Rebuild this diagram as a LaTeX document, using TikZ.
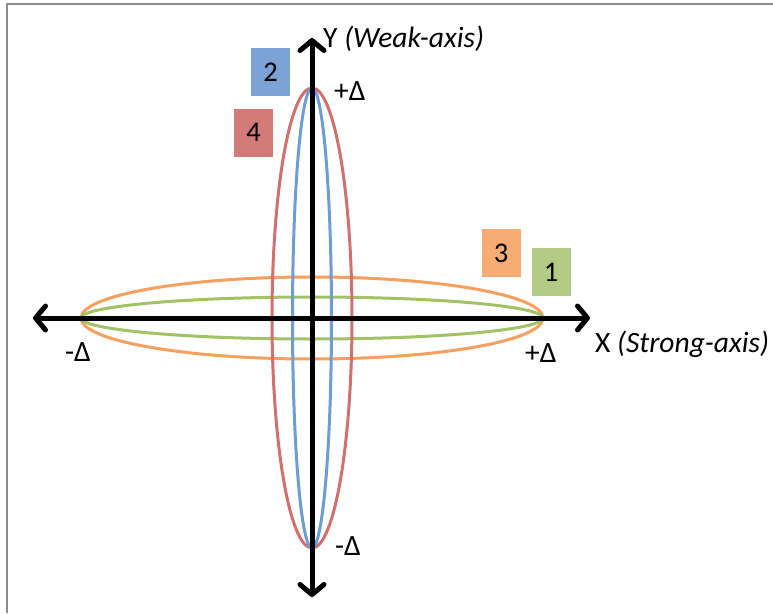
\documentclass[tikz,border=0pt]{standalone}
\usepackage{fontspec}
\setmainfont{Carlito}
\usepackage{tikz}
\usetikzlibrary{arrows.meta,positioning}
\definecolor{frameGray}{HTML}{8C8C8C}
\definecolor{modeGreen}{HTML}{A3C266}
\definecolor{modeBlue}{HTML}{6E9DD3}
\definecolor{modeOrange}{HTML}{F5A05E}
\definecolor{modeRed}{HTML}{D0706F}
\definecolor{boxGreen}{HTML}{B2CC84}
\definecolor{boxBlue}{HTML}{7CA3D5}
\definecolor{boxOrange}{HTML}{F8AC74}
\definecolor{boxRed}{HTML}{D27B79}

\tikzset{
  axisline/.style={line width=5pt,-{Straight Barb[length=10pt,width=24pt,round]},
                   shorten >=-2pt},
  modeline/.style={line width=3pt},
  modebox/.style={minimum width=39pt,minimum height=48pt,inner sep=0pt,
                  font=\fontsize{28.5}{34}\selectfont},
  axislabel/.style={anchor=base west,inner sep=0pt,
                    font=\fontsize{29.5}{35}\selectfont}
}

\begin{document}
\begin{tikzpicture}[x=1pt,y=-1pt]
    \useasboundingbox (0,0) rectangle (773,613);
    \draw[frameGray,line width=2pt] (6.5,613)--(6.5,3.5)--(773,3.5);

    \coordinate (O) at (312,318);
    \coordinate (xl) at (35,318);
    \coordinate (xr) at (588,318);
    \coordinate (yt) at (312,40);
    \coordinate (yb) at (312,595);

    % strong-axis modes
    \draw[modeline,modeOrange] (O) ellipse (231 and 41);
    \draw[modeline,modeGreen] (O) ellipse (231 and 21);
    % weak-axis modes
    \draw[modeline,modeRed] (O) ellipse (40 and 230);
    \draw[modeline,modeBlue] (O) ellipse (19.5 and 230);

    \draw[axisline] (O) -- (xr);
    \draw[axisline] (O) -- (xl);
    \draw[axisline] (O) -- (yt);
    \draw[axisline] (O) -- (yb);

    \node[axislabel] (ylab) at (323,47) {Y \textit{(Weak-axis)}};
    \node[axislabel] (xlab) at (595,352) {X \textit{(Strong-axis)}};
    \node[axislabel] (ytop) at (334,100) {+Δ};
    \node[axislabel] (ybot) at (335,555) {-Δ};
    \node[axislabel] (xleft) at (65,361) {-Δ};
    \node[axislabel] (xright) at (525,362) {+Δ};

    \node[modebox,fill=boxBlue] (m2) at (270.5,72) {2};
    \node[modebox,fill=boxRed] (m4) at (253.5,132.5) {4};
    \node[modebox,fill=boxOrange] (m3) at (501,253) {3};
    \node[modebox,fill=boxGreen] (m1) at (551,272) {1};
  \end{tikzpicture}
\end{document}
